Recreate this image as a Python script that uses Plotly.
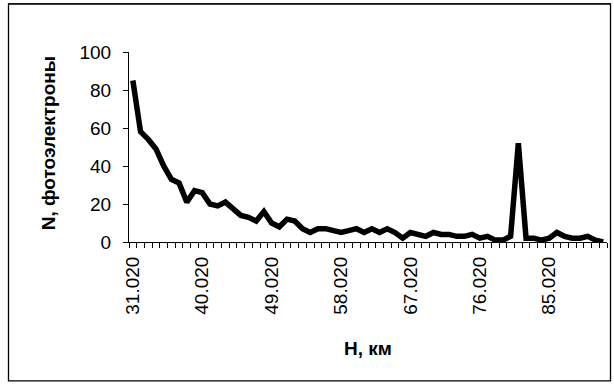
import plotly.graph_objects as go

heights_km = [f"{31 + i}.020" for i in range(62)]
photoelectrons = [85, 58, 54, 49, 40, 33, 31, 21, 27, 26,
                  20, 19, 21, 17, 14, 13, 11, 16, 10, 8,
                  12, 11, 7, 5, 7, 7, 6, 5, 6, 7,
                  5, 7, 5, 7, 5, 2, 5, 4, 3, 5,
                  4, 4, 3, 3, 4, 2, 3, 1, 1, 3,
                  52, 2, 2, 1, 2, 5, 3, 2, 2, 3,
                  1, 0]
label_every = 9
tick_text = [h if i % label_every == 0 else "" for i, h in enumerate(heights_km)]
y_ticks = [0, 20, 40, 60, 80, 100]

FONT = "Arial, Liberation Sans, sans-serif"
L, R, T, B = 129, 7, 51.7, 143.3
W, H = 614, 385
pw, ph = W - L - R, H - T - B

def px(x):
    return (x - L) / pw

def py(y):
    return (H - B - y) / ph

fig = go.Figure()
fig.add_trace(go.Scatter(
    x=heights_km, y=photoelectrons, mode="lines",
    line=dict(color="black", width=5.5), showlegend=False,
))

fig.update_layout(
    width=W, height=H,
    margin=dict(l=L, r=R, t=T, b=B),
    paper_bgcolor="white", plot_bgcolor="white",
    font=dict(family=FONT, size=19, color="black"),
    xaxis=dict(
        type="category", tickmode="array", tickvals=heights_km, ticktext=tick_text,
        tickson="boundaries", ticks="outside", ticklen=5, tickcolor="black",
        tickangle=-90, showline=True, linecolor="black", linewidth=1,
        showgrid=False, zeroline=False, range=[-0.5, len(heights_km) - 0.5],
        tickfont=dict(size=19), ticklabelstandoff=6,
    ),
    yaxis=dict(
        range=[0, 100], tickvals=y_ticks, ticks="outside", ticklen=5,
        tickcolor="black", showline=True, linecolor="black", linewidth=1,
        showgrid=False, zeroline=False, tickfont=dict(size=19),
        ticklabelstandoff=8,
    ),
    shapes=[
        dict(type="rect", xref="paper", yref="paper",
             x0=px(8.5), x1=px(610.5), y0=py(380.5), y1=py(3.5),
             line=dict(color="black", width=1.3), layer="above"),
        dict(type="line", xref="paper", yref="paper",
             x0=px(8.5), x1=px(610.5), y0=py(3.5), y1=py(3.5),
             line=dict(color="black", width=1.3), layer="above"),
    ],
    annotations=[
        dict(text="<b>N, фотоэлектроны</b>", xref="paper", yref="paper",
             x=px(48), y=py(143), textangle=-90, showarrow=False,
             xanchor="center", yanchor="middle", font=dict(size=19)),
        dict(text="<b>H, км</b>", xref="paper", yref="paper",
             x=px(367.5), y=py(348), showarrow=False,
             xanchor="center", yanchor="middle", font=dict(size=19)),
    ],
)

fig.write_html(
    "out.html",
    config={"displayModeBar": False},
    post_script="document.body.style.margin='0';document.body.style.overflow='hidden';",
)
